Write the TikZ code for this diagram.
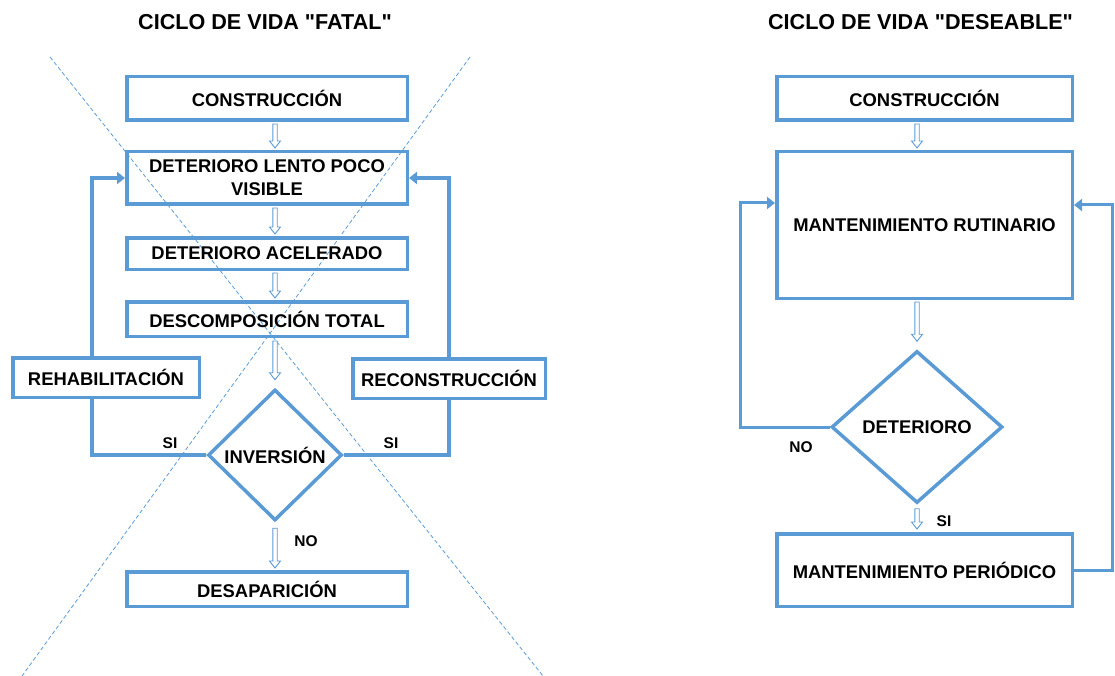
\documentclass[tikz,border=0pt]{standalone}
\usepackage{fontspec}
\setmainfont{Liberation Sans}[Ligatures=TeXOff]
\usetikzlibrary{shapes.geometric,arrows.meta,calc}
\definecolor{bl}{HTML}{5B9BD5}
\begin{document}
\begin{tikzpicture}[x=1pt,y=-1pt,
  box/.style={draw=bl, line width=3.5pt, font=\fontsize{18.4}{23}\selectfont\bfseries, align=center, inner sep=0pt},
  dia/.style={draw=bl, line width=3.5pt, diamond, font=\fontsize{18.4}{23}\selectfont\bfseries, inner sep=0pt},
  ttl/.style={font=\fontsize{21.6}{26}\selectfont\bfseries},
  lbl/.style={font=\fontsize{15.5}{18}\selectfont\bfseries},
  lnk/.style={draw=bl, line width=4pt},
  lnkb/.style={draw=bl, line width=3pt},
  tip/.style={-{Triangle[length=8pt,width=12pt]}},
  xline/.style={draw=bl, line width=0.8pt, dash pattern=on 4pt off 2.5pt},
  harr/.style={draw=bl, line width=0.9pt, fill=white, to path={let \p1=(\tikztostart), \p2=(\tikztotarget) in
     (\x1-2.2pt,\y1) -- (\x1-2.2pt,\y2+7pt) -- (\x1-5.5pt,\y2+7pt) -- (\x1,\y2) -- (\x1+5.5pt,\y2+7pt) -- (\x1+2.2pt,\y2+7pt) -- (\x1+2.2pt,\y1) -- cycle}}
]
\useasboundingbox (0,0) rectangle (1115,676);
% crossing dashed lines
\draw[xline] (50,57) -- (543,676);
\draw[xline] (470,57) -- (22,676);

% titles
\node[ttl] (t1) at (265,22) {CICLO DE VIDA "FATAL"};
\node[ttl] (t2) at (920.5,22) {CICLO DE VIDA "DESEABLE"};

% left chart
\node[box, minimum width=280.5pt, minimum height=43.5pt] (c1) at (267,98.5) {CONSTRUCCIÓN};
\node[box, minimum width=280.5pt, minimum height=52.5pt] (d1) at (267,178) {DETERIORO LENTO POCO\\VISIBLE};
\node[box, minimum width=280.5pt, minimum height=31.5pt] (d2) at (267,253.5) {DETERIORO ACELERADO};
\node[box, minimum width=280.5pt, minimum height=34.5pt] (d3) at (267,319) {DESCOMPOSICIÓN TOTAL};
\node[box, minimum width=186.5pt, minimum height=39.5pt] (rh) at (106,377.5) {REHABILITACIÓN};
\node[box, minimum width=192.5pt, minimum height=39.5pt] (rc) at (449,378.5) {RECONSTRUCCIÓN};
\node[dia, minimum width=134pt, minimum height=131pt] (inv) at (275,455) {INVERSIÓN};
\node[box, minimum width=280.5pt, minimum height=34.5pt] (des) at (267,589) {DESAPARICIÓN};

\path[harr] ($(c1.south -| inv.north)+(0,2)$) to ($(d1.north -| inv.north)+(0,-2)$);
\path[harr] ($(d1.south -| inv.north)+(0,2)$) to ($(d2.north -| inv.north)+(0,-2)$);
\path[harr] ($(d2.south -| inv.north)+(0,2)$) to ($(d3.north -| inv.north)+(0,-2)$);
\path[harr] ($(d3.south -| inv.north)+(0,3)$) to ($(inv.north)+(0,-8)$);
\path[harr] ($(inv.south)+(0,6)$) to ($(des.north)+(0,-2)$);

\coordinate (lx) at (92,0);
\draw[lnk] (rh.south -| lx) |- (inv.west);
\draw[lnk, tip] (rh.north -| lx) |- (d1.west);
\draw[lnk] (inv.east) -| (rc.south);
\draw[lnk, tip] (rc.north) |- (d1.east);

\node[lbl] (si1) at (170,443) {SI};
\node[lbl] (si2) at (391,443) {SI};
\node[lbl] (no1) at (306,541) {NO};

% right chart
\node[box, minimum width=295.5pt, minimum height=43.5pt] (c2) at (924.5,98.5) {CONSTRUCCIÓN};
\node[box, minimum width=295.5pt, minimum height=146.5pt] (mr) at (924.5,225) {MANTENIMIENTO RUTINARIO};
\node[dia, minimum width=171pt, minimum height=152pt] (det) at (917,427) {DETERIORO};
\node[box, minimum width=295.5pt, minimum height=72.5pt] (mp) at (924.5,570) {MANTENIMIENTO PERIÓDICO};

\path[harr] ($(c2.south -| det.north)+(0,2)$) to ($(mr.north -| det.north)+(0,-2)$);
\path[harr] ($(mr.south -| det.north)+(0,2)$) to ($(det.north)+(0,-8)$);
\path[harr] ($(det.south)+(0,4)$) to ($(mp.north -| det.south)+(0,-3)$);

\coordinate (nl) at (740,203);
\coordinate (nr) at (1112,205);
\draw[lnkb, tip] (det.west) -| (nl) -- (nl -| mr.west);
\draw[lnkb, tip] (mp.east) -| (nr) -- (nr -| mr.east);

\node[lbl] (no2) at (801,447) {NO};
\node[lbl] (si3) at (944,521) {SI};
\end{tikzpicture}
\end{document}
